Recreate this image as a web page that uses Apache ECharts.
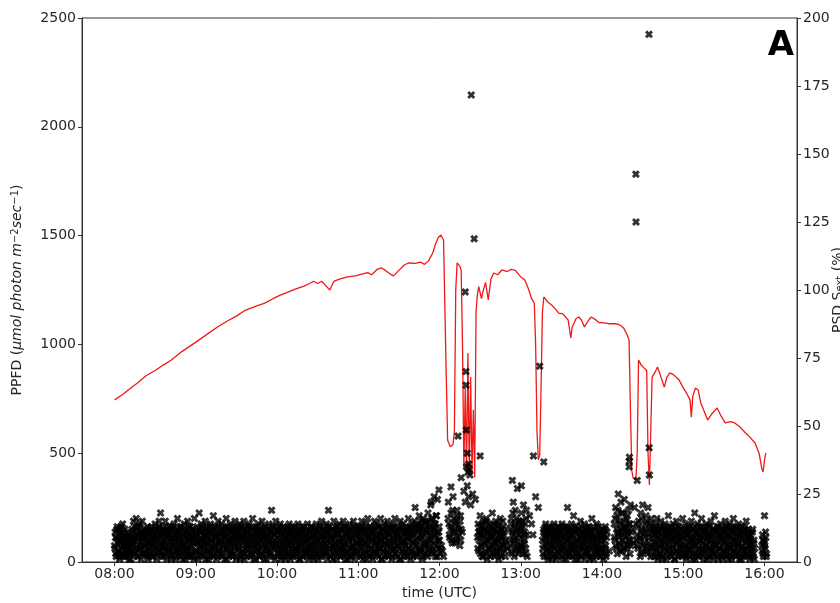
<!DOCTYPE html>
<html>
<head>
<meta charset="utf-8">
<script src="https://cdn.jsdelivr.net/npm/echarts@6/dist/echarts.min.js"></script>
<style>html,body{margin:0;padding:0;background:#fff}#c{width:840px;height:603px}</style>
</head>
<body>
<div id="c"></div>
<script>
// ---- DATA ----
// x ticks (minutes since midnight)
const hourTicks = [480, 540, 600, 660, 720, 780, 840, 900, 960];
const leftTicks = [0, 500, 1000, 1500, 2000, 2500];
const rightTicks = [0, 25, 50, 75, 100, 125, 150, 175, 200];

// PPFD red line: time (minutes since midnight) and value
const ppfdTime = [480,486,492,497,503,510,516,522,530,539,548,556,564,570,576,584,591,597,602,608,614,620,624,627,630,633,636,639,642,646,652,658,662,667,670,674,677,680,684,686,690,694,697,702,706,709,712,715,717,719,721,722,723,724.5,726,728,730,731,732,733,735,736,737,738,739,740,741,742,743,744,745,746,747,748,749,751,752,754,756,758,760,763,766,770,773,776,780,783,786,788,790,791,792,793,794,795,796,797,800,803,806,808,811,815,817,818,821,823,825,827,830,832,835,838,840,845,850,853,856,858,860,861,862,863,865,866,867,869,871,873,874,875,876,877,879,881,883,886,888,890,893,897,900,903,905,906,907,909,911,913,915,918,921,925,928,931,935,938,942,946,949,953,956,958,959,960,961];
const ppfdValue = [745,770,800,823,855,880,905,928,968,1006,1045,1080,1110,1130,1155,1175,1190,1210,1225,1240,1255,1268,1280,1290,1280,1290,1270,1250,1290,1300,1310,1315,1322,1330,1320,1345,1352,1340,1322,1315,1340,1365,1374,1372,1378,1368,1385,1420,1460,1490,1503,1500,1480,1000,560,530,540,600,1250,1375,1360,1340,1000,430,800,420,960,400,850,410,700,390,1150,1230,1265,1210,1240,1285,1205,1300,1328,1320,1342,1335,1345,1340,1310,1296,1250,1210,1190,1000,600,470,490,800,1150,1218,1195,1180,1160,1144,1140,1112,1030,1080,1120,1126,1110,1080,1110,1126,1115,1100,1100,1095,1095,1090,1075,1052,1020,700,420,386,377,500,928,905,892,880,500,354,600,850,870,896,860,804,850,869,860,836,800,770,745,666,760,800,790,731,700,653,680,708,670,639,645,639,620,593,575,547,500,430,414,470,501];

// PSD scatter (right axis, %): samples every 30 s within each hour (set A at :00/:30 s,
// set B at :15/:45 s); null = no sample
const psd08 = [6,11,3,9,13,4,8,2,12,7, 5,10,14,3,9,6,
  2,8,5,11,4,7,1,9,3,6,
  12,4,15,8,3,10,16,6,13,2, 9,14,5,11,7,15,3,10,
  6,12,4,9,2,13,7,5,11,3, 8,12,6,2,10,7,
  14,5,9,3,12,8,15,4,18,10, 6,13,2,11,7,15,4,9,12,5,
  10,3,13,7,1,12,5,9,14,4, 8,11,2,16,6,10,3,13,7,5, 12,1,9,14,4,11,6,2,15,8, 3,10,13,5,9,2,12,7,16,4];
const psd09 = [9,4,13,7,2,18,11,5,14,8, 3,12,6,10,15,1,9,13,4,7, 11,2,14,8,5,12,17,3,10,6,
  13,9,2,15,7,4,11,8,14,3, 6,12,10,1,9,16,5,13,7,2, 11,14,4,8,12,3,10,6,15,9,
  2,13,7,11,5,14,1,9,12,4, 8,15,3,10,6,13,2,11,7,14, 5,9,12,3,16,8,1,10,13,6,
  4,11,7,14,2,9,12,5,15,3, 10,6,13,8,1,12,4,9,14,7, 3,11,19,6,13,2,10,8,15,5];
const psd10 = [7,12,3,10,5,14,8,2,11,6, 13,4,9,1,12,7,3,10,14,5, 8,11,2,13,6,9,4,12,7,3,
  10,14,5,8,1,11,6,13,2,9, 12,4,7,10,3,14,8,5,11,2, 6,13,9,4,12,1,10,7,14,3,
  8,11,5,13,2,9,15,6,12,4, 10,7,3,14,8,11,19,5,13,2, 9,12,6,1,15,4,10,7,13,3,
  11,8,14,5,2,12,9,6,15,4, 7,13,3,10,1,11,8,14,5,12, 2,9,6,15,4,10,13,7,3,11];
const psd11 = [10,4,13,8,2,15,6,11,3,12, 7,14,1,9,16,5,10,3,13,8, 12,2,11,6,15,4,9,14,7,3,
  13,10,5,16,1,8,12,6,14,2, 9,11,4,15,7,3,13,10,6,12, 2,14,8,5,16,11,3,9,13,6,
  10,1,15,7,12,4,14,8,2,11, 6,13,9,3,16,5,12,10,4,14, 7,2,11,15,20,8,3,13,6,12,
  17,4,10,14,9,2,16,7,12,5, 15,11,3,18,8,13,6,21,10,4, 16,12,7,14,2,17,9,23,5,11];
const psd12 = [8,3,null,6,null,null,2,null,null,null,null,null,
  null,22,14,9,null,18,12,7,24,16, 11,null,15,8,19,13,null,10,6,17, 12,null,
  null,null,26,null,22,null,null,28,null,24, null,null,21,null,null,25,null,null,null,23, null,null,
  9,14,4,11,17,6,13,2,10,15, 7,12,3,16,8,11,5,14,9,2, 13,6,18,10,4,12,8,15,3,11, 7,14,5,9,16,2,12,6,10,13, 4,8,
  null,null,5,null,null,null,
  12,6,16,3,10,22,8,14,19,5, 11,27,7,15,4,13];
const psd13 = [9,18,5,13,21,7,11,3,16,10,
  null,null,null,17,null,null,14,null,10,null, null,null,24,null,null,null,20,null,null,null, null,null,
  8,3,12,6,10,14,2,9,5,11, 13,7,4,12,1,10,6,14,8,3, 11,9,2,13,5,12,7,10,4,14, 6,1,9,13,3,11,8,20,5,12,
  2,10,7,14,4,9,17,6,11,3, 13,8,1,12,5,10,15,7,2,11, 9,4,14,6,12,3,10,8,13,5, 1,11,7,16,2,9,12,4,10,6,
  14,3,8,13,5,11,2,9];
const psd14 = [7,12,3,10,5,13,2,9,
  null,null,null,4,null,null,null,null,null,null,
  14,8,20,5,17,11,25,9,15,6, 22,12,4,18,10,23,7,13,16,5, 11,19,8,14,21,6,
  null,12,null,null,20,null,null,8,
  10,5,15,null,8,18,3,12,21,6, null,14,9,17,4,11,20,7,null,13, 2,16,
  9,4,12,7,14,2,10,16,5,11, 8,13,3,15,6,1,12,9,4,14, 7,11,2,10,17,5,13,8,3,12, 6,14,9,1,11,4,15,7,10,2, 13,5,8,12,3,16];
const psd15 = [6,11,3,14,8,2,12,5,10,13, 4,9,15,7,1,12,6,18,3,11, 8,14,2,10,5,13,9,16,4,7,
  12,3,11,6,14,1,9,13,5,10, 2,15,8,4,12,7,17,3,11,6, 13,9,1,10,5,14,8,2,12,4,
  11,7,15,3,9,13,6,1,10,14, 5,12,2,8,16,4,11,7,13,3, 9,6,14,1,10,12,5,8,2,11,
  13,4,7,15,3,9,12,6,10,2, 8,5,11,3,7,1,
  null,null,null,null,null,null,null,null,null,null,
  6,10,3,8];
const psd16 = [17,5,9,3];

const psd08b = [5,9,2,12,7,4,10,1,8,13, 3,11,6,9,2,12,
  4,7,2,9,5,10,3,6,1,8,
  7,11,3,13,9,5,12,2,8,10, 4,13,6,1,11,8,9,3,
  9,3,11,6,12,1,8,4,10,7, 13,2,9,5,11,3,
  8,12,1,10,6,13,4,11,7,2, 9,12,5,8,3,11,6,1,10,13,
  4,8,11,2,9,6,13,3,10,7, 1,12,5,9,4,11,8,2,13,6, 10,3,7,12,1,9,5,11,4,8, 13,2,6,10,3,12,7,1,9,11];
const psd09b = [4,10,7,1,12,6,9,3,11,8, 13,5,2,10,7,12,4,9,1,11,
  6,13,3,8,10,2,12,5,9,7, 1,11,4,13,6,10,3,8,12,2,
  9,5,11,7,13,1,10,4,8,12, 6,3,9,11,2,13,7,5,10,1,
  12,8,4,11,6,9,2,13,3,10, 7,1,12,5,8,11,4,9,13,6,
  2,10,7,3,12,9,5,11,1,8, 13,6,4,10,2,12,8,3,11,7,
  9,1,13,5,10,6,3,12,8,4, 11,2,9,7,13,5,10,1,6,12];
const psd10b = [11,3,8,13,6,1,10,4,12,7, 2,9,5,11,8,13,3,6,10,1,
  12,7,4,9,2,11,13,5,8,3, 10,6,1,12,9,4,11,7,2,13,
  5,8,10,3,12,6,1,9,11,4, 13,7,2,10,5,8,12,3,6,9,
  1,11,4,13,7,10,2,8,5,12, 3,9,6,11,1,13,4,10,7,2,
  8,12,5,9,3,11,6,1,13,10, 4,7,12,2,9,5,11,8,3,6,
  13,1,10,4,12,7,9,2,11,5, 8,3,6,13,1,10,4,12,9,7];
const psd11b = [6,12,2,9,5,13,8,1,11,4, 10,7,3,12,6,9,2,13,5,11,
  8,1,10,4,12,7,3,9,13,6, 2,11,5,8,10,1,12,4,9,7,
  13,3,6,11,2,10,8,5,12,1, 9,4,13,7,3,11,6,10,2,8,
  12,5,1,9,13,4,7,11,3,10, 6,2,12,8,5,13,9,1,11,4,
  10,7,3,12,6,14,2,9,11,5, 13,8,4,15,1,10,12,6,3,14,
  7,11,2,15,9,5,13,8,16,4, 12,3,10,14,6,17,2,11,8,13];
const psd12b = [null,5,null,null,4,null,null,null,null,null,null,null,
  16,null,10,null,13,8,null,19,11,null, 7,14,null,9,17,null,12,null,15,8, null,11,
  null,null,null,null,null,null,null,null,null,null, null,null,null,null,null,null,null,null,null,null, null,null,
  5,11,8,13,3,10,6,14,2,9, 12,4,7,15,1,11,8,5,13,10, 3,9,12,6,14,2,7,11,4,13, 8,1,10,5,12,3,9,15,6,11, 7,2,
  null,null,null,null,null,null,
  8,14,4,11,18,7,2,13,9,16, 5,12,3,10,15,6];
const psd13b = [12,6,15,3,10,8,14,5,19,2,
  null,null,null,null,null,null,null,null,null,null, null,null,null,null,null,null,null,null,null,null, null,null,
  5,11,2,9,13,7,4,12,1,10, 8,3,11,6,13,2,9,5,12,7, 1,10,4,13,8,3,11,6,9,2, 12,5,10,7,1,13,4,8,11,3,
  9,6,12,2,10,5,13,7,1,11, 4,8,3,12,6,9,2,13,10,5, 7,11,1,8,4,12,3,9,6,13, 10,2,11,5,8,1,12,7,3,9,
  13,6,4,10,2,11,8,5];
const psd14b = [4,10,1,8,12,6,3,11,
  null,null,null,null,null,null,null,null,null,null,
  9,16,6,12,3,19,10,7,14,4, 11,18,8,13,5,15,9,2,12,17, 6,10,14,3,8,11,
  null,null,7,null,null,null,14,null,
  6,13,null,9,2,11,16,4,null,10, 7,null,12,5,15,3,null,9,14,6, null,11,
  5,12,2,10,7,13,4,9,1,11, 6,3,12,8,10,2,13,5,7,11, 1,9,4,12,6,10,3,13,8,2, 11,5,9,1,12,7,4,10,13,3, 8,6,11,2,9,5];
const psd15b = [9,3,12,6,1,10,4,13,7,2, 11,5,8,12,3,9,13,1,6,10, 4,11,7,2,12,8,3,13,5,9,
  1,10,6,12,4,8,11,2,13,7, 5,9,3,10,1,12,6,11,4,8, 2,13,7,5,10,3,12,9,1,6,
  11,4,8,13,2,10,5,12,7,3, 9,1,11,6,13,4,8,2,10,12, 5,7,3,11,9,1,13,6,4,10,
  2,12,8,5,11,3,9,6,1,10, 7,4,12,2,8,5,
  null,null,null,null,null,null,null,null,null,null,
  4,8,2,7];
const psd16b = [6,11,2];

// isolated high PSD points: time (min) and value
const psdHighTime = [719.6,728.5,733.7,736,739,739.5,739.6,739.8,740.5,740,741,741.5,742,742.5,743.4,745.6,750,789.4,794,797,860,860.1,860.3,866,865,865.1,874.7,874.8,875,773.8,780.5,716,714];
const psdHighValue = [26.5,27.6,46.3,31,99.3,70,65,48.5,40,35,33,36,34,32,171.7,118.8,39,39,72,36.8,35,37,38.5,30,142.6,125,194,42,32,30,28,24,22];

// ---- BUILD ----
const psdHoursA = [[8, psd08],[9, psd09],[10, psd10],[11, psd11],[12, psd12],[13, psd13],[14, psd14],[15, psd15],[16, psd16]];
const psdHoursB = [[8, psd08b],[9, psd09b],[10, psd10b],[11, psd11b],[12, psd12b],[13, psd13b],[14, psd14b],[15, psd15b],[16, psd16b]];
const scatterData = [];
psdHoursA.forEach(([h, arr]) => arr.forEach((v, i) => { if (v !== null) scatterData.push([h * 60 + i * 0.5, v]); }));
psdHoursB.forEach(([h, arr]) => arr.forEach((v, i) => { if (v !== null) scatterData.push([h * 60 + i * 0.5 + 0.25, v]); }));
psdHighTime.forEach((t, i) => scatterData.push([t, psdHighValue[i]]));
const lineData = ppfdTime.map((t, i) => [t, ppfdValue[i]]);

const FONT = 'DejaVu Sans';
const fmt = v => { const h = Math.floor(v / 60), m = Math.round(v % 60); return (h < 10 ? '0' : '') + h + ':' + (m < 10 ? '0' : '') + m; };
const tickColor = '#262626';
const lineC = '#333';
const xSym = 'path://M0,2.6L2.6,0L5,2.4L7.4,0L10,2.6L7.6,5L10,7.4L7.4,10L5,7.6L2.6,10L0,7.4L2.4,5Z';

const chart = echarts.init(document.getElementById('c'), null, { renderer: 'canvas' });
chart.setOption({
  animation: false,
  backgroundColor: '#fff',
  grid: { left: 82, right: 43, top: 18, bottom: 41, show: true, borderColor: lineC, borderWidth: 1, containLabel: false, outerBoundsMode: 'none' },
  graphic: [{ type: 'text', right: 46, top: 29, z: 10, style: { text: 'A', font: 'bold 34px "DejaVu Sans"', fill: '#000' } }],
  xAxis: {
    type: 'value', min: 456, max: 984,
    name: 'time (UTC)', nameLocation: 'middle', nameGap: 24,
    nameTextStyle: { fontFamily: FONT, fontSize: 14, color: tickColor },
    axisLine: { show: true, lineStyle: { color: lineC, width: 1 } },
    axisTick: { show: true, length: 4, customValues: hourTicks, lineStyle: { color: lineC } },
    axisLabel: { customValues: hourTicks, formatter: fmt, fontFamily: FONT, fontSize: 14, color: tickColor, margin: 5 },
    splitLine: { show: false }
  },
  yAxis: [{
    type: 'value', min: 0, max: 2500, interval: 500, position: 'left',
    name: '{n|PPFD (}{i|μmol photon m}{s|−2}{i|sec}{s|−1}{n|)}',
    nameLocation: 'middle', nameGap: 58, nameRotate: 90,
    nameTextStyle: {
      fontFamily: FONT, fontSize: 14, color: tickColor,
      rich: {
        n: { fontFamily: FONT, fontSize: 14, color: tickColor },
        i: { fontFamily: FONT, fontSize: 14, fontStyle: 'italic', color: tickColor },
        s: { fontFamily: FONT, fontSize: 10, color: tickColor, verticalAlign: 'top', lineHeight: 10 }
      }
    },
    axisLine: { show: true, lineStyle: { color: lineC, width: 1 } },
    axisTick: { show: true, length: 4, lineStyle: { color: lineC } },
    axisLabel: { formatter: v => String(v), fontFamily: FONT, fontSize: 14, color: tickColor, margin: 6 },
    splitLine: { show: false }
  }, {
    type: 'value', min: 0, max: 200, interval: 25, position: 'right',
    name: '{n|PSD S}{s|ext}{n| (%)}',
    nameLocation: 'middle', nameGap: 34, nameRotate: 90, nameMoveOverlap: false,
    nameTextStyle: {
      fontFamily: FONT, fontSize: 14, color: tickColor,
      rich: {
        n: { fontFamily: FONT, fontSize: 14, color: tickColor },
        s: { fontFamily: FONT, fontSize: 10, color: tickColor, verticalAlign: 'bottom', lineHeight: 10 }
      }
    },
    axisLine: { show: true, lineStyle: { color: lineC, width: 1 } },
    axisTick: { show: true, length: 4, lineStyle: { color: lineC } },
    axisLabel: { formatter: v => String(v), fontFamily: FONT, fontSize: 14, color: tickColor, margin: 6 },
    splitLine: { show: false }
  }],
  series: [{
    type: 'line', name: 'PPFD', yAxisIndex: 0, data: lineData, showSymbol: false, symbol: 'none',
    lineStyle: { color: '#f01818', width: 1.3 }, z: 2
  }, {
    type: 'scatter', name: 'PSD', yAxisIndex: 1, data: scatterData, large: false,
    symbol: xSym, symbolSize: 8, itemStyle: { color: '#000' }, z: 3
  }]
});
</script>
</body>
</html>
